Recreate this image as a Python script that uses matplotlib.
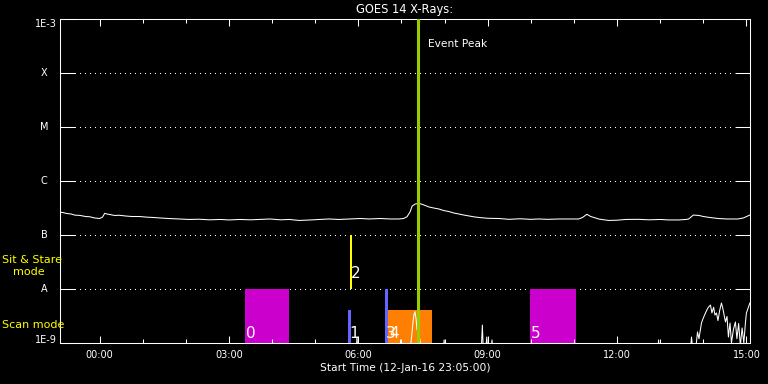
import numpy as np
import matplotlib
matplotlib.use('Agg')
import matplotlib.pyplot as plt
from matplotlib.ticker import NullLocator
from matplotlib.transforms import blended_transform_factory

# time axis in hours after 00:00 on 13-Jan-16 (start 12-Jan-16 23:05:00)
t_start = -55 / 60.0
t_end = 15 + 5 / 60.0

# GOES 14 long channel (1-8 A)
t_long = [-0.93, -0.85, -0.76, -0.66, -0.58, -0.45, -0.32, -0.23, -0.12, 0.0,
          0.07, 0.12, 0.18, 0.23, 0.35, 0.46, 0.6, 0.75, 0.93, 1.1,
          1.25, 1.39, 1.6, 1.85, 2.08, 2.3, 2.55, 2.8, 3.01, 3.25,
          3.5, 3.7, 3.95, 4.2, 4.4, 4.63, 4.9, 5.1, 5.32, 5.55,
          5.8, 6.05, 6.25, 6.5, 6.75, 6.94, 7.05, 7.13, 7.2, 7.25,
          7.32, 7.41, 7.52, 7.64, 7.75, 7.87, 7.98, 8.1, 8.22, 8.33,
          8.45, 8.57, 8.68, 8.8, 9.0, 9.26, 9.5, 9.75, 10.0, 10.19,
          10.4, 10.65, 10.9, 11.11, 11.2, 11.3, 11.39, 11.5, 11.57, 11.7,
          11.81, 12.0, 12.2, 12.5, 12.75, 13.0, 13.2, 13.43, 13.6, 13.66,
          13.77, 13.9, 14.0, 14.15, 14.35, 14.55, 14.8, 14.93, 15.08]
flux_long = [2.63e-7, 2.61e-7, 2.50e-7, 2.45e-7, 2.34e-7, 2.30e-7, 2.20e-7, 2.18e-7, 2.07e-7, 2.02e-7,
             2.15e-7, 2.52e-7, 2.44e-7, 2.40e-7, 2.30e-7, 2.32e-7, 2.25e-7, 2.20e-7, 2.20e-7, 2.14e-7,
             2.11e-7, 2.07e-7, 2.02e-7, 1.98e-7, 1.94e-7, 1.96e-7, 1.91e-7, 1.94e-7, 1.90e-7, 1.94e-7,
             1.91e-7, 1.94e-7, 1.98e-7, 1.91e-7, 1.94e-7, 1.86e-7, 1.90e-7, 1.94e-7, 1.98e-7, 1.94e-7,
             1.98e-7, 2.02e-7, 1.98e-7, 2.02e-7, 1.98e-7, 1.98e-7, 2.02e-7, 2.18e-7, 2.67e-7, 3.44e-7,
             3.75e-7, 3.86e-7, 3.60e-7, 3.30e-7, 3.16e-7, 3.03e-7, 2.84e-7, 2.72e-7, 2.55e-7, 2.45e-7,
             2.34e-7, 2.25e-7, 2.17e-7, 2.11e-7, 2.04e-7, 2.02e-7, 1.95e-7, 2.00e-7, 1.95e-7, 1.98e-7,
             1.95e-7, 1.98e-7, 1.98e-7, 1.98e-7, 2.11e-7, 2.42e-7, 2.20e-7, 2.07e-7, 1.98e-7, 1.91e-7,
             1.86e-7, 1.88e-7, 1.94e-7, 1.95e-7, 1.91e-7, 1.94e-7, 1.90e-7, 1.90e-7, 1.94e-7, 1.98e-7,
             2.34e-7, 2.30e-7, 2.20e-7, 2.11e-7, 2.02e-7, 1.98e-7, 1.98e-7, 2.07e-7, 2.34e-7]

# GOES 14 short channel (0.5-4 A), mostly below 1E-9
t_short = [-0.93, 5.95, 5.97, 5.99, 6.97, 6.98, 7.0, 7.2, 7.245, 7.27,
           7.29, 7.315, 7.34, 7.36, 7.4, 7.43, 7.46, 7.97, 7.99, 8.01,
           8.85, 8.877, 8.9, 8.95, 8.98, 9.0, 9.08, 9.1, 9.12, 12.95,
           12.963, 12.98, 13.7, 13.727, 13.76, 13.82, 13.866, 13.9, 13.958, 14.0,
           14.051, 14.09, 14.12, 14.167, 14.2, 14.24, 14.27, 14.306, 14.34, 14.38,
           14.421, 14.45, 14.514, 14.55, 14.583, 14.62, 14.653, 14.7, 14.745, 14.78,
           14.82, 14.86, 14.9, 14.94, 14.977, 15.0, 15.08]
flux_short = [7e-10, 7e-10, 1.29e-9, 7e-10, 7e-10, 1.14e-9, 7e-10, 7e-10, 1.53e-9, 2.5e-9,
              3.3e-9, 3.8e-9, 2.8e-9, 1.8e-9, 1.47e-9, 1.14e-9, 7e-10, 7e-10, 1.14e-9, 7e-10,
              7e-10, 2.15e-9, 7e-10, 7e-10, 1.29e-9, 7e-10, 7e-10, 1.14e-9, 7e-10, 7e-10,
              1.14e-9, 7e-10, 7e-10, 1.29e-9, 7e-10, 7e-10, 1.6e-9, 1.2e-9, 2.35e-9, 2.9e-9,
              3.6e-9, 4.2e-9, 4.6e-9, 5.05e-9, 3.6e-9, 4.6e-9, 3.3e-9, 3.6e-9, 2.6e-9, 4.0e-9,
              5.5e-9, 4.5e-9, 2.45e-9, 3.1e-9, 1.29e-9, 2.35e-9, 1.0e-9, 1.8e-9, 2.45e-9, 1.2e-9,
              2.3e-9, 9e-10, 1.9e-9, 1.0e-9, 2.35e-9, 3.6e-9, 5.5e-9]

# observations
obs_label = ['0', '1', '2', '3', '4', '5']
obs_begin = [3.38, 5.76, 5.81, 6.62, 6.69, 9.98]
obs_end = [4.40, 5.83, 5.86, 6.69, 7.72, 11.04]
obs_low = [1e-9, 1e-9, 1e-8, 1e-9, 1e-9, 1e-9]
obs_high = [1e-8, 4e-9, 1e-7, 1e-8, 4e-9, 1e-8]
obs_color = ['#cc00cc', '#6464ff', '#ffff00', '#6464ff', '#ff8000', '#cc00cc']

peak_time = 7.377

y_ticks = [1e-9, 1e-8, 1e-7, 1e-6, 1e-5, 1e-4, 1e-3]
y_labels = ['1E-9', 'A', 'B', 'C', 'M', 'X', '1E-3']
x_major = [0, 3, 6, 9, 12, 15]
x_labels = ['00:00', '03:00', '06:00', '09:00', '12:00', '15:00']

plt.rcParams['font.family'] = 'DejaVu Sans'

fig = plt.figure(figsize=(7.68, 3.84), dpi=100, facecolor='black')
ax = fig.add_axes([60 / 768, 41 / 384, 690 / 768, 324 / 384], facecolor='black')

ax.set_yscale('log')
ax.set_xlim(t_start, t_end)
ax.set_ylim(1e-9, 1e-3)

for s in ax.spines.values():
    s.set_color('white')
    s.set_linewidth(0.75)

# y ticks (inside, both sides), labels drawn by hand
ax.set_yticks(y_ticks)
ax.yaxis.set_minor_locator(NullLocator())
ax.tick_params(axis='y', which='major', direction='in', length=10.8, width=0.75,
               color='white', left=True, right=True, labelleft=False)

# x ticks
ax.set_xticks(x_major)
ax.set_xticklabels(x_labels)
ax.set_xticks(range(1, 15), minor=True)
ax.tick_params(axis='x', which='major', direction='in', length=5, width=0.75,
               color='white', top=True, bottom=True, labelcolor='white',
               labelsize=7, pad=5)
ax.tick_params(axis='x', which='minor', direction='in', length=2.9, width=0.75,
               color='white', top=True, bottom=True)

# dotted grid between the tick marks
for v in y_ticks[1:-1]:
    ax.axhline(v, xmin=15 / 690, xmax=1 - 15 / 690, color='white', lw=0.72,
               ls=(0, (1, 5)), zorder=0.5, antialiased=False)

ytrans = blended_transform_factory(ax.transAxes, ax.transData)
for v, lab in zip(y_ticks, y_labels):
    if lab == '1E-3':
        ax.text(-0.004, v, lab, transform=ytrans, ha='right', va='top',
                color='white', fontsize=7)
    elif lab == '1E-9':
        ax.text(-0.005, v, lab, transform=ytrans, ha='right', va='baseline',
                color='white', fontsize=7)
    else:
        ax.text(-0.0232, v, lab, transform=ytrans, ha='center', va='center',
                color='white', fontsize=7)

# observation blocks
for lab, b, e, lo, hi, c in zip(obs_label, obs_begin, obs_end, obs_low, obs_high, obs_color):
    ax.bar(b, hi - lo, bottom=lo, width=e - b, align='edge', color=c,
           linewidth=0, zorder=1)
    ly = lo * 10 ** (4.7 / 54) if lo < 1e-8 else lo * 10 ** (11.3 / 54)
    ax.annotate(lab, xy=(b, ly), xytext=(0.8, 0), textcoords='offset points',
                ha='left', va='baseline', color='white', fontsize=11,
                zorder=4)

# x-ray curves
ax.plot(t_long, flux_long, color='white', lw=0.75, zorder=3)
ax.plot(t_short, flux_short, color='white', lw=0.75, zorder=3)

# event peak
ax.axvline(peak_time, color='#99cc00', lw=2.2, zorder=5)
ax.annotate('Event Peak', xy=(peak_time, 1), xycoords=('data', 'axes fraction'),
            xytext=(7.6, -20.2), textcoords='offset points', ha='left',
            va='baseline', color='white', fontsize=7.7)

ax.text(0.5, 1 + 6 / 324, 'GOES 14 X-Rays:', transform=ax.transAxes,
        ha='center', va='baseline', color='white', fontsize=8.3)
fig.text(405 / 768, 13 / 384, 'Start Time (12-Jan-16 23:05:00)', ha='center',
         va='baseline', color='white', fontsize=7.7)

fig.text(2 / 768, 121 / 384, 'Sit & Stare', ha='left', va='baseline',
         color='#ffff00', fontsize=8)
fig.text(13 / 768, 109 / 384, 'mode', ha='left', va='baseline',
         color='#ffff00', fontsize=8)
fig.text(2 / 768, 56 / 384, 'Scan mode', ha='left', va='baseline',
         color='#ffff00', fontsize=8)

fig.savefig('out.png', dpi=100, facecolor='black')
